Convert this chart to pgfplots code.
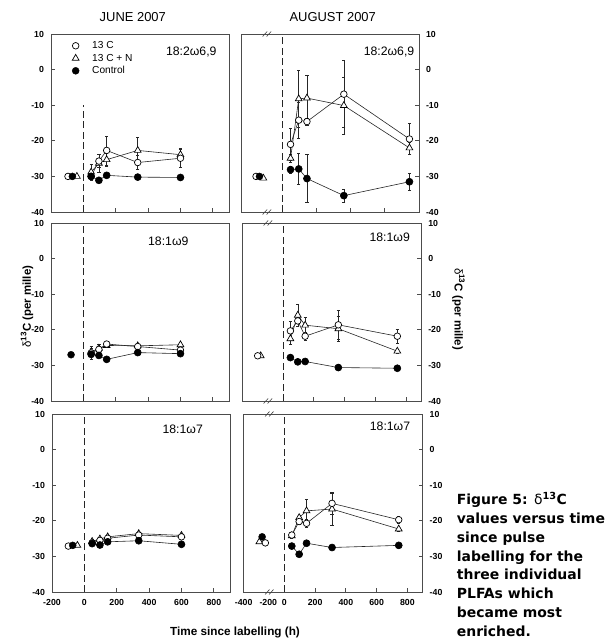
\documentclass[border=0pt]{standalone}
\usepackage{fontspec}
\setmainfont{Liberation Sans}
\newfontfamily\capfont{DejaVu Sans}
\usepackage{pgfplots}
\pgfplotsset{compat=1.18}

\pgfplotsset{
  panel/.style={scale only axis, height=178bp, ymin=-40, ymax=10,
    ytick={-40,-30,-20,-10,0,10}, yticklabels={-40,-30,-20,-10,0,10},
    tick align=inside, xtick pos=bottom, major tick length=4bp,
    axis line style={black!70, line width=0.9bp},
    every tick/.style={black!70, line width=0.8bp},
    ticklabel style={font=\fontsize{8.8}{10}\selectfont\bfseries},
    xticklabel style={yshift=-4bp},
    xticklabels={}, clip=false},
  lpanel/.style={panel, width=178bp, xmin=-200, xmax=900, xtick={-200,0,200,400,600,800},
    ytick pos=left, yticklabel style={xshift=-3.5bp}},
  rpanel/.style={panel, width=179bp, xmin=-265, xmax=900, xtick={0,200,400,600,800},
    ytick pos=right, yticklabel pos=right, yticklabel style={xshift=3.5bp}},
  ln/.style={black!85, line width=0.6bp},
  mC/.style={mark=*, mark size=3.3bp, mark options={solid, fill=white, draw=black, line width=0.7bp}},
  mN/.style={mark=triangle*, mark size=3.9bp, mark options={solid, fill=white, draw=black, line width=0.7bp}},
  mK/.style={mark=*, mark size=3.5bp, mark options={solid, fill=black, draw=black}},
  eb/.style={error bars/y dir=both, error bars/y explicit,
    error bars/error bar style={black!85, line width=0.5bp},
    error bars/error mark options={rotate=90, mark size=1.6bp, line width=0.5bp, black!85}},
  zero/.style={black!85, line width=0.6bp, dash pattern=on 7bp off 3.5bp},
}
\newcommand{\brk}[2]{%
  \draw[black!75, line width=0.6bp] ([xshift=-4.5bp,yshift=-2.5bp]axis cs:#1,#2) -- ++(4.5bp,5bp);
  \draw[black!75, line width=0.6bp] ([xshift=-0.5bp,yshift=-2.5bp]axis cs:#1,#2) -- ++(4.5bp,5bp);}

\begin{document}
\begin{tikzpicture}
\useasboundingbox (0,0) rectangle (616bp,-639bp);

% ---- June, 18:2w6,9
\begin{axis}[lpanel, at={(51bp,-212bp)}, anchor=south west,
  legend style={at={(rel axis cs:0.115,0.97)}, anchor=north west, draw=none, fill=none,
    inner sep=0pt, row sep=0pt, font=\fontsize{10.2}{12}\selectfont,
    nodes={inner sep=1.5bp, text height=7.5bp, text depth=2bp},
    /tikz/every odd column/.append style={column sep=11bp}},
  legend cell align=left,
  legend image code/.code={\path[draw=none, fill=none] (-4bp,0bp) -- (4bp,0bp); \draw[#1] plot coordinates {(0bp,0bp)};}]
\addlegendimage{only marks, mC}\addlegendentry{13 C}
\addlegendimage{only marks, mN}\addlegendentry{13 C + N}
\addlegendimage{only marks, mK}\addlegendentry{Control}
\addplot[zero] coordinates {(0,-40) (0,-10)};
\addplot[ln, mN, eb] coordinates {(48,-28.8) +- (0,2.3) (96,-26.3) +- (0,2.5) (144,-25.3) +- (0,1.8) (336,-22.7) +- (0,3.7) (600,-23.9) +- (0,1.7)};
\addplot[ln, mC, eb] coordinates {(48,-30.0) +- (0,0.8) (96,-25.7) +- (0,1.8) (144,-22.7) +- (0,4.1) (336,-26.1) +- (0,2.0) (600,-24.9) +- (0,2.5)};
\addplot[ln, mK, eb] coordinates {(48,-30.0) +- (0,0.5) (96,-31.1) +- (0,0.5) (144,-29.7) +- (0,0.5) (336,-30.2) +- (0,0.5) (600,-30.3) +- (0,0.5)};
\addplot[only marks, mN] coordinates {(-40,-30.0)};
\addplot[only marks, mC] coordinates {(-95,-30.0)};
\addplot[only marks, mK] coordinates {(-68,-30.0)};
\end{axis}

% ---- August, 18:2w6,9
\begin{axis}[rpanel, width=178bp, xmin=-242, xmax=800, at={(241bp,-212bp)}, anchor=south west]
\addplot[zero] coordinates {(0,-40) (0,10)};
\addplot[ln, mN, eb] coordinates {(48,-24.9) +- (0,1.0) (96,-8.2) +- (0,8.0) (144,-8.0) +- (0,6.5) (360,-10.1) +- (0,8.0) (744,-22.0) +- (0,1.7)};
\addplot[ln, mC, eb] coordinates {(48,-21.0) +- (0,4.4) (96,-14.2) +- (0,5.0) (144,-14.6) +- (0,1.0) (360,-6.9) +- (0,9.4) (744,-19.5) +- (0,4.3)};
\addplot[ln, mK, eb] coordinates {(48,-28.1) +- (0,1.0) (96,-27.9) +- (0,4.4) (144,-30.6) +- (0,6.7) (360,-35.4) +- (0,1.8) (744,-31.5) +- (0,2.3)};
\addplot[only marks, mN] coordinates {(-111,-30.5)};
\addplot[only marks, mC] coordinates {(-154,-30.0)};
\addplot[only marks, mK] coordinates {(-134,-30.0)};
\brk{-89}{10}\brk{-89}{-40}
\end{axis}

% ---- June, 18:1w9
\begin{axis}[lpanel, at={(51bp,-401bp)}, anchor=south west]
\addplot[zero] coordinates {(0,-40) (0,10)};
\addplot[ln, mN, eb] coordinates {(48,-26.2) +- (0,1.0) (96,-25.2) +- (0,1.2) (144,-24.4) +- (0,0.5) (336,-24.5) +- (0,0.5) (600,-24.2) +- (0,0.6)};
\addplot[ln, mC, eb] coordinates {(48,-26.5) +- (0,1.8) (96,-25.5) +- (0,1.0) (144,-24.0) +- (0,0.5) (336,-24.7) +- (0,0.5) (600,-25.7) +- (0,0.5)};
\addplot[ln, mK, eb] coordinates {(48,-26.9) +- (0,0.5) (96,-27.2) +- (0,0.5) (144,-28.3) +- (0,0.5) (336,-26.4) +- (0,0.5) (600,-26.7) +- (0,0.5)};
\addplot[only marks, mK] coordinates {(-76,-27.0)};
\end{axis}

% ---- August, 18:1w9
\begin{axis}[rpanel, at={(242.3bp,-401bp)}, anchor=south west]
\addplot[zero] coordinates {(0,-40) (0,10)};
\addplot[ln, mN, eb] coordinates {(48,-22.5) +- (0,1.5) (96,-15.9) +- (0,3.0) (144,-18.7) +- (0,2.1) (360,-19.7) +- (0,3.4) (744,-26.0) +- (0,0.5)};
\addplot[ln, mC, eb] coordinates {(48,-20.3) +- (0,2.6) (96,-17.5) +- (0,1.5) (144,-21.8) +- (0,1.0) (360,-18.6) +- (0,4.0) (744,-21.8) +- (0,1.9)};
\addplot[ln, mK, eb] coordinates {(48,-27.8) +- (0,0.5) (96,-29.0) +- (0,0.5) (144,-28.9) +- (0,0.5) (360,-30.6) +- (0,0.8) (744,-30.8) +- (0,0.5)};
\addplot[only marks, mN] coordinates {(-145,-27.3)};
\addplot[only marks, mC] coordinates {(-165,-27.3)};
\brk{-97}{10}\brk{-97}{-40}
\end{axis}

% ---- June, 18:1w7
\begin{axis}[lpanel, at={(52bp,-592bp)}, anchor=south west,
  xticklabels={-200,0,200,400,600,800}]
\addplot[zero] coordinates {(0,-40) (0,10)};
\addplot[ln, mN, eb] coordinates {(48,-25.8) +- (0,0.5) (96,-25.1) +- (0,0.5) (144,-24.5) +- (0,0.5) (336,-23.6) +- (0,0.5) (600,-24.1) +- (0,0.5)};
\addplot[ln, mC, eb] coordinates {(48,-26.2) +- (0,0.5) (96,-25.5) +- (0,0.5) (144,-24.9) +- (0,0.5) (336,-24.0) +- (0,0.5) (600,-24.5) +- (0,0.5)};
\addplot[ln, mK, eb] coordinates {(48,-26.4) +- (0,0.5) (96,-26.8) +- (0,0.5) (144,-25.9) +- (0,0.5) (336,-25.6) +- (0,0.5) (600,-26.6) +- (0,0.5)};
\addplot[only marks, mN] coordinates {(-43,-26.9)};
\addplot[only marks, mC] coordinates {(-99,-27.1)};
\addplot[only marks, mK] coordinates {(-72,-26.9)};
\end{axis}

% ---- August, 18:1w7
\begin{axis}[rpanel, at={(243.7bp,-592bp)}, anchor=south west,
  xticklabels={0,200,400,600,800},
  extra x ticks={-265,-105}, extra x tick labels={-400,-200},
  extra x tick style={major tick length=0pt}]
\addplot[zero] coordinates {(0,-40) (0,10)};
\addplot[ln, mN, eb] coordinates {(48,-24.2) +- (0,0.6) (96,-19.1) +- (0,0.8) (144,-17.2) +- (0,3.3) (310,-16.7) +- (0,4.5) (744,-22.3) +- (0,0.5)};
\addplot[ln, mC, eb] coordinates {(48,-24.0) +- (0,0.8) (96,-20.2) +- (0,0.8) (144,-20.7) +- (0,1.0) (310,-15.1) +- (0,3.0) (744,-19.7) +- (0,1.0)};
\addplot[ln, mK, eb] coordinates {(48,-27.1) +- (0,0.5) (96,-29.4) +- (0,0.5) (144,-26.3) +- (0,0.5) (310,-27.5) +- (0,0.5) (744,-26.9) +- (0,0.5)};
\addplot[only marks, mN] coordinates {(-163,-25.9)};
\addplot[only marks, mC] coordinates {(-124,-26.2)};
\addplot[only marks, mK] coordinates {(-145,-24.5)};
\brk{-97}{10}\brk{-97}{-40}
\end{axis}

% ---- titles and labels
\node[font=\fontsize{13}{15}\selectfont] at (132.8bp,-16.7bp) {JUNE 2007};
\node[font=\fontsize{13}{15}\selectfont] at (332.7bp,-16.7bp) {AUGUST 2007};
\begin{scope}[every node/.style={font=\fontsize{12.3}{14}\selectfont}]
\node at (191.3bp,-51.7bp) {18:2ω6,9};
\node at (389bp,-52bp) {18:2ω6,9};
\node at (168.3bp,-241.7bp) {18:1ω9};
\node at (389.7bp,-237.3bp) {18:1ω9};
\node at (182.7bp,-429.3bp) {18:1ω7};
\node at (390bp,-426.7bp) {18:1ω7};
\end{scope}
\node[rotate=90, font=\fontsize{11.5}{13}\selectfont\bfseries] at (27bp,-306.7bp) {{\mdseries δ}\textsuperscript{13}C (per mille)};
\node[rotate=-90, font=\fontsize{11.5}{13}\selectfont\bfseries] at (458.5bp,-309bp) {{\mdseries δ}\textsuperscript{13}C (per mille)};
\node[font=\fontsize{11.8}{13}\selectfont\bfseries] at (235bp,-632bp) {Time since labelling (h)};
\node[anchor=north west, inner sep=0pt, align=left,
  font=\capfont\bfseries\fontsize{14}{18.9}\selectfont] at (456.7bp,-492bp)
  {Figure 5: {\mdseries δ}\textsuperscript{13}C\\values versus time\\since pulse\\labelling for the\\three individual\\PLFAs which\\became most\\enriched.};
\end{tikzpicture}
\end{document}
